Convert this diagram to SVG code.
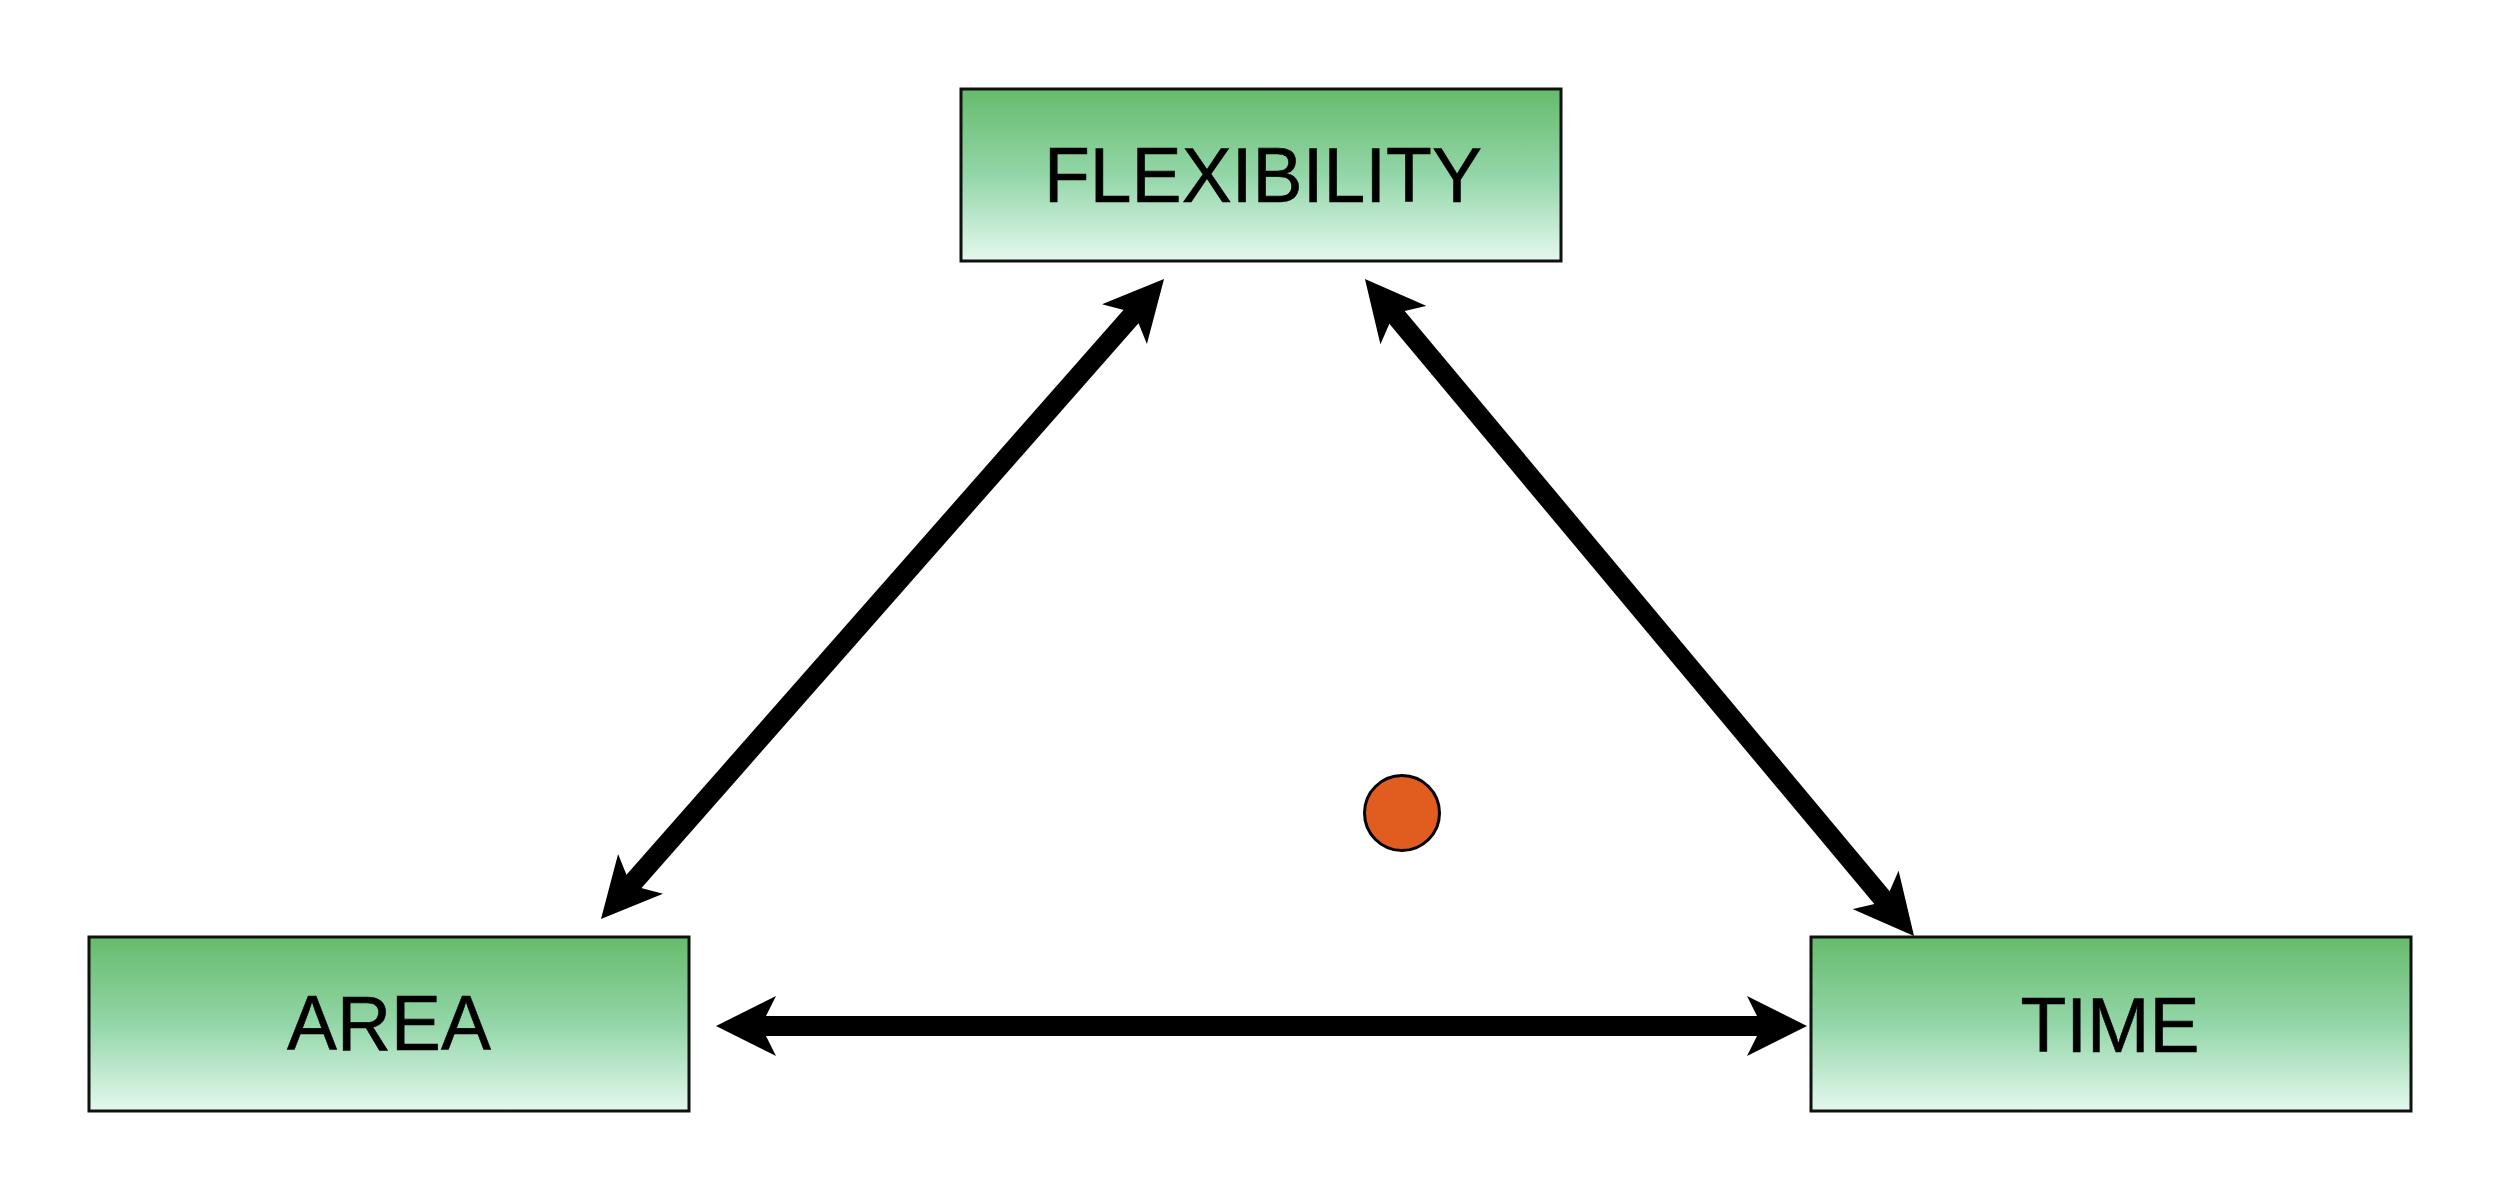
<svg xmlns="http://www.w3.org/2000/svg" width="2500" height="1200" viewBox="0 0 2500 1200">
  <style>
    .box { fill: url(#g); stroke: #111; stroke-width: 3; }
    .lbl { font-family: "Liberation Sans", Arial, sans-serif; font-size: 77px; fill: #000; stroke: #000; stroke-width: 0.6; text-anchor: middle; }
    .conn { stroke: #000; stroke-width: 20; fill: none; marker-start: url(#ah); marker-end: url(#ah); }
  </style>
  <defs>
    <linearGradient id="g" x1="0" y1="0" x2="0" y2="1">
      <stop offset="0" stop-color="#66BB6C"/>
      <stop offset="0.5" stop-color="#93D6A8"/>
      <stop offset="1" stop-color="#E4F9EE"/>
    </linearGradient>
    <marker id="ah" markerUnits="userSpaceOnUse" viewBox="0 0 60 60" markerWidth="60" markerHeight="60" refX="25" refY="30" orient="auto-start-reverse">
      <path d="M60,30 L0,0 L15,30 L0,60 Z" fill="#000"/>
    </marker>
  </defs>
  <rect width="2500" height="1200" fill="#fff"/>
  <g id="connectors">
    <line class="conn" x1="624.1" y1="892.7" x2="1140.9" y2="305.3"/>
    <line class="conn" x1="1387.4" y1="305.9" x2="1891.6" y2="909.1"/>
    <line class="conn" x1="751" y1="1026" x2="1772" y2="1026"/>
  </g>
  <g id="flexibility">
    <rect class="box" x="961" y="89" width="600" height="172"/>
    <text class="lbl" x="1263" y="202" textLength="438" lengthAdjust="spacingAndGlyphs">FLEXIBILITY</text>
  </g>
  <g id="area">
    <rect class="box" x="89" y="937" width="600" height="174"/>
    <text class="lbl" x="389" y="1050" textLength="204" lengthAdjust="spacingAndGlyphs">AREA</text>
  </g>
  <g id="time">
    <rect class="box" x="1811" y="937" width="600" height="174"/>
    <text class="lbl" x="2110" y="1052" textLength="179" lengthAdjust="spacingAndGlyphs">TIME</text>
  </g>
  <g id="dot">
    <circle cx="1402" cy="813" r="37.5" fill="#E05D1F" stroke="#000" stroke-width="3"/>
  </g>
</svg>
